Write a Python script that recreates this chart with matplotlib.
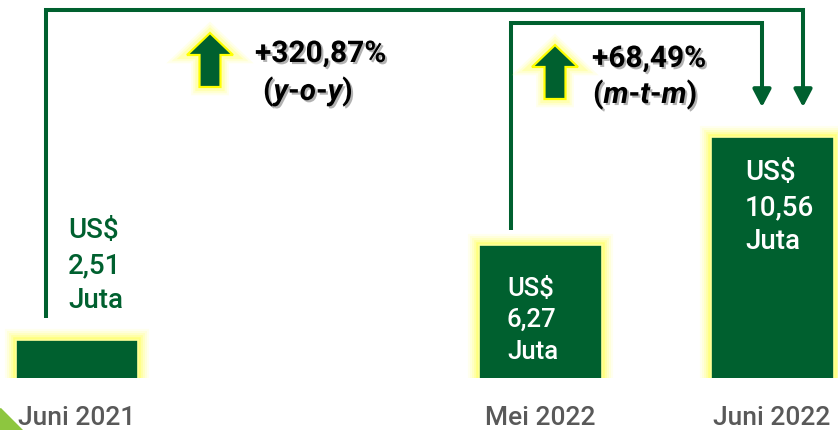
import matplotlib
matplotlib.use('Agg')
import matplotlib.pyplot as plt
import matplotlib.patheffects as pe
from matplotlib.patches import Polygon

# ---- data ----
categories = ['Juni 2021', 'Mei 2022', 'Juni 2022']
values = [2.51, 6.27, 10.56]
x_pos = [0, 2, 3]
value_texts = ['2,51', '6,27', '10,56']
currency = 'US$'
unit = 'Juta'
yoy_text = '+320,87%'
yoy_period = r'($\mathit{y}$-$\mathit{o}$-$\mathit{y}$)'
mtm_text = '+68,49%'
mtm_period = r'($\mathit{m}$-$\mathit{t}$-$\mathit{m}$)'

GREEN = '#00602F'
GLOW = '#FFFF66'
GRAY = '#595959'

plt.rcParams['font.family'] = ['Roboto', 'DejaVu Sans']
plt.rcParams['mathtext.fontset'] = 'custom'
plt.rcParams['mathtext.it'] = 'Roboto:italic:bold'
plt.rcParams['mathtext.rm'] = 'Roboto:bold'
plt.rcParams['mathtext.bf'] = 'Roboto:bold'

W, H = 838, 430
fig = plt.figure(figsize=(W / 100, H / 100), dpi=100)
fig.patch.set_facecolor('white')

ax = fig.add_axes([0, 52 / H, 1, 378 / H])
ax.set_xlim(-0.332, 3.284)
ax.set_ylim(1.0, 16.0)
for s in ax.spines.values():
    s.set_visible(False)
ax.set_yticks([])
ax.set_xticks(x_pos, categories)
ax.tick_params(axis='x', length=0, pad=20, labelsize=19, labelcolor=GRAY)
for t in ax.get_xticklabels():
    t.set_fontweight('medium')

glow = [pe.Stroke(linewidth=lw, foreground=GLOW, alpha=a)
        for lw, a in [(16, 0.10), (13, 0.14), (10, 0.2), (7, 0.3), (4, 0.6)]] + [pe.Normal()]

bars = ax.bar(x_pos, values, width=0.53, bottom=0, color=GREEN,
              edgecolor='#FFFF99', linewidth=1.2, zorder=2)
for b in bars:
    b.set_path_effects(glow)

# ---- value labels ----
label_dx = [-9, -33.5, -27]
label_dys = [[102, 67, 32], [-51, -82, -114], [-43, -78, -112]]
label_colors = [GREEN, 'white', 'white']
label_sizes = [20, 18.5, 20]
for i in range(len(values)):
    lines = [currency, value_texts[i], unit]
    for line, dy in zip(lines, label_dys[i]):
        ax.annotate(line, xy=(x_pos[i], values[i]), xytext=(label_dx[i], dy),
                    textcoords='offset pixels', ha='left', va='baseline',
                    fontsize=label_sizes[i], fontweight='medium',
                    color=label_colors[i], zorder=4)

# ---- connectors ----
lw_c = 2.9
head = '-|>,head_length=10.5,head_width=5.5'

def connector(x0, y0, x1, ytop, ytip):
    base = ytip + 17 / 25.2
    ax.plot([x0, x0, x1, x1], [y0, ytop, ytop, base], color=GREEN, lw=lw_c,
            solid_joinstyle='miter', solid_capstyle='butt', clip_on=False, zorder=3)
    ax.annotate('', xy=(x1, ytip), xytext=(x1, base + 0.1),
                arrowprops=dict(arrowstyle=head, mutation_scale=1, lw=lw_c,
                                color=GREEN, shrinkA=0, shrinkB=0), zorder=3)

connector(x_pos[0] - 0.135, values[0] + 0.87, x_pos[2] + 0.133, 15.59, values[2] + 1.19)
connector(x_pos[1] - 0.128, values[1] + 0.60, x_pos[2] - 0.044, 15.09, values[2] + 1.19)

# ---- overlay for decorations ----
ov = fig.add_axes([0, 0, 1, 1], facecolor='none')
ov.set_xlim(0, W)
ov.set_ylim(H, 0)
ov.axis('off')

arrow_glow = [pe.Stroke(linewidth=lw, foreground=GLOW, alpha=a)
              for lw, a in [(12, 0.12), (9, 0.18), (6, 0.3)]] + [pe.Normal()]

def up_arrow(cx, tip):
    hw, sw, hh, tot = 23, 10.5, 22, 54
    pts = [(cx, tip), (cx + hw, tip + hh), (cx + sw, tip + hh), (cx + sw, tip + tot),
           (cx - sw, tip + tot), (cx - sw, tip + hh), (cx - hw, tip + hh)]
    p = Polygon(pts, closed=True, facecolor=GREEN, edgecolor='#FFFF00', lw=1.6,
                joinstyle='miter')
    p.set_path_effects(arrow_glow)
    ov.add_patch(p)

up_arrow(210, 33)
up_arrow(555, 45)

shadow = [pe.withSimplePatchShadow(offset=(1.5, -1.5), shadow_rgbFace='#7f7f7f', alpha=0.6)]
txt_kw = dict(fontsize=21.5, fontweight='bold', color='black', va='baseline',
              ha='left', path_effects=shadow)
ov.text(255, 62, yoy_text, **txt_kw)
ov.text(263, 100, yoy_period, **txt_kw)
ov.text(592, 67, mtm_text, **txt_kw)
ov.text(593, 103, mtm_period, **txt_kw)

ov.add_patch(Polygon([(0, 408), (0, 430), (22, 430)], closed=True, color='#8DC63F'))

fig.savefig('out.png', dpi=100, facecolor='white')
